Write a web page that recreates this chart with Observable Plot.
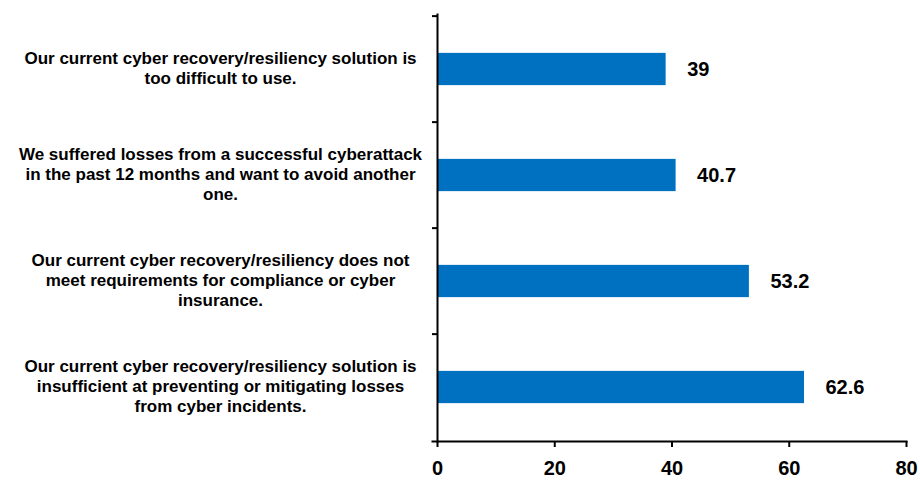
<!DOCTYPE html>
<html>
<head>
<meta charset="utf-8">
<script src="https://cdn.jsdelivr.net/npm/d3@7"></script>
<script src="https://cdn.jsdelivr.net/npm/@observablehq/plot@0.6"></script>
<style>
  html, body { margin: 0; padding: 0; background: #fff; }
  #chart svg { display: block; }
</style>
</head>
<body>
<div id="chart"></div>
<script>
const categories = [
  "Our current cyber recovery/resiliency solution is\ntoo difficult to use.",
  "We suffered losses from a successful cyberattack\nin the past 12 months and want to avoid another\none.",
  "Our current cyber recovery/resiliency does not\nmeet requirements for compliance or cyber\ninsurance.",
  "Our current cyber recovery/resiliency solution is\ninsufficient at preventing or mitigating losses\nfrom cyber incidents."
];
const values = [39, 40.7, 53.2, 62.6];
const xTicks = [0, 20, 40, 60, 80];

const data = categories.map((c, i) => ({category: c, value: values[i]}));

const W = 920, H = 481;
const mTop = 14, mBottom = 40, mLeft = 437, mRight = 14;
const band = (H - mTop - mBottom) / categories.length;
const barH = 33;

const font = '"Liberation Sans", Arial, sans-serif';

const chart = Plot.plot({
  width: W,
  height: H,
  marginTop: mTop,
  marginBottom: mBottom,
  marginLeft: mLeft,
  marginRight: mRight,
  style: {fontFamily: font, fontWeight: "bold", color: "#000", background: "#fff"},
  x: {domain: [0, 80], ticks: xTicks},
  y: {domain: categories, padding: 0},
  marks: [
    Plot.barX(data, {
      x: "value", y: "category", fill: "#0070C0",
      insetTop: (band - barH) / 2, insetBottom: (band - barH) / 2
    }),
    Plot.text(data, {
      x: "value", y: "category", text: d => String(d.value),
      textAnchor: "start", dx: 21, fontSize: 20, fontWeight: "bold", fill: "#000"
    }),
    Plot.frame({anchor: "left", stroke: "#000", strokeWidth: 2}),
    Plot.frame({anchor: "bottom", stroke: "#000", strokeWidth: 2, insetLeft: -5}),
    Plot.axisY({
      anchor: "left", tickSize: 5, strokeWidth: 2, text: null, label: null, dy: -band / 2
    }),
    Plot.axisY({
      anchor: "left", tickSize: 0, tickPadding: mLeft - 220,
      textAnchor: "middle", fontSize: 17, lineHeight: 1.18, fill: "#000", label: null, dy: -2
    }),
    Plot.axisX({
      anchor: "bottom", ticks: xTicks, tickSize: 6, strokeWidth: 2,
      tickPadding: 13, fontSize: 20, fill: "#000", label: null, tickFormat: d => String(d)
    })
  ]
});
document.getElementById("chart").appendChild(chart);
</script>
</body>
</html>
